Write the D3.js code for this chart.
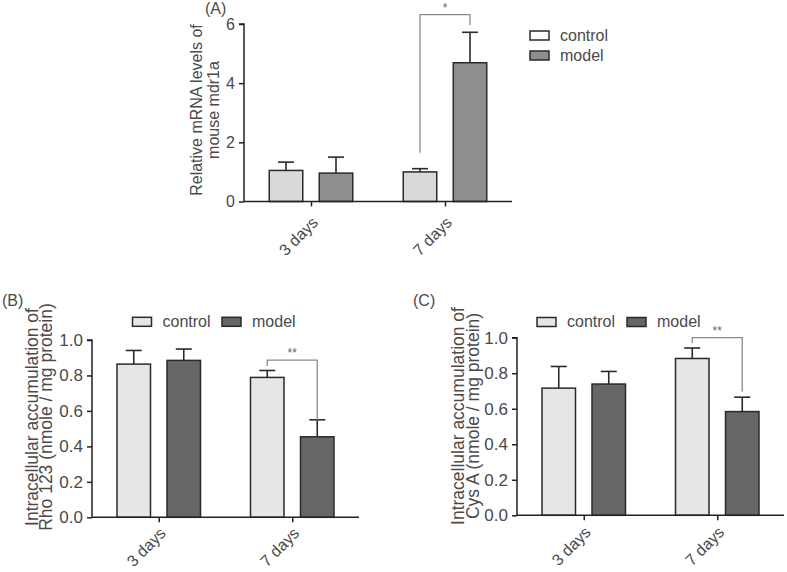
<!DOCTYPE html>
<html>
<head>
<meta charset="utf-8">
<script src="https://d3js.org/d3.v7.min.js"></script>
<style>
  body { margin: 0; background: #fff; }
  svg { display: block; font-family: "Liberation Sans", Arial, Helvetica, sans-serif; }
</style>
</head>
<body>
<svg id="chart" width="787" height="572"></svg>
<script>
// ---------- data ----------
const categories = ["3 days", "7 days"];
const seriesNames = ["control", "model"];

// Panel A: relative mRNA levels of mouse mdr1a
const mrnaControl = [1.05, 1.00];
const mrnaControlErr = [0.28, 0.11];
const mrnaModel = [0.96, 4.69];
const mrnaModelErr = [0.54, 1.03];
const mrnaTicks = [0, 2, 4, 6];
const mrnaSig = { category: "7 days", label: "*", top: 6.32, leftEnd: 1.65, rightEnd: 5.97 };

// Panel B: Rho 123 accumulation
const rhoControl = [0.864, 0.789];
const rhoControlErr = [0.077, 0.039];
const rhoModel = [0.885, 0.454];
const rhoModelErr = [0.064, 0.096];
const rhoSig = { category: "7 days", label: "**", top: 0.887, leftEnd: 0.853, rightEnd: 0.549 };

// Panel C: Cys A accumulation
const cysControl = [0.716, 0.883];
const cysControlErr = [0.122, 0.059];
const cysModel = [0.739, 0.584];
const cysModelErr = [0.071, 0.081];
const cysSig = { category: "7 days", label: "**", top: 1.0, leftEnd: 0.97, rightEnd: 0.697 };

const fracTicks = [0, 0.2, 0.4, 0.6, 0.8, 1.0];

const TEXT = "#4a4a4a";
const AXIS = "#222";
const EDGE = "#2a2a2a";
const BRACKET = "#8a8a8a";

const svg = d3.select("#chart");

function drawPanel(cfg) {
  const g = svg.append("g");
  const x = d3.scalePoint().domain(categories).range(cfg.xRange).padding(0.5);
  const sub = d3.scaleBand().domain(seriesNames).range([-50, 50]).paddingInner(0.33).paddingOuter(0.165);
  const y = d3.scaleLinear().domain(cfg.yDomain).range(cfg.yRange);
  const color = d3.scaleOrdinal().domain(seriesNames).range(cfg.colors);

  const rows = [];
  categories.forEach((c, i) => {
    rows.push({ cat: c, s: "control", v: cfg.control[i], e: cfg.controlErr[i] });
    rows.push({ cat: c, s: "model", v: cfg.model[i], e: cfg.modelErr[i] });
  });

  // error bars
  const capW = 16;
  const eb = g.append("g");
  rows.forEach(d => {
    const cx = x(d.cat) + sub(d.s) + sub.bandwidth() / 2;
    eb.append("line").attr("x1", cx).attr("x2", cx).attr("y1", y(d.v)).attr("y2", y(d.v + d.e))
      .attr("stroke", EDGE).attr("stroke-width", 1.6);
    eb.append("line").attr("x1", cx - capW / 2).attr("x2", cx + capW / 2)
      .attr("y1", y(d.v + d.e)).attr("y2", y(d.v + d.e))
      .attr("stroke", EDGE).attr("stroke-width", 1.6);
  });

  // bars
  g.append("g").selectAll("rect").data(rows).join("rect")
    .attr("x", d => x(d.cat) + sub(d.s))
    .attr("width", sub.bandwidth())
    .attr("y", d => y(d.v))
    .attr("height", d => y(0) - y(d.v))
    .attr("fill", d => color(d.s))
    .attr("stroke", EDGE)
    .attr("stroke-width", 1.5);

  // y axis
  const yAxis = d3.axisLeft(y).tickValues(cfg.yTicks).tickSize(5).tickPadding(4)
    .tickFormat(cfg.yFormat);
  const ya = g.append("g").attr("transform", `translate(${cfg.xRange[0]},0)`).call(yAxis);
  ya.select(".domain").attr("stroke", AXIS).attr("stroke-width", 1.5)
    .attr("d", `M-5,${cfg.yRange[1]}H0V${cfg.yRange[0]}`);
  ya.selectAll(".tick line").attr("stroke", AXIS).attr("stroke-width", 1.5);
  ya.selectAll(".tick text").attr("fill", TEXT).attr("font-size", cfg.tickFont)
    .attr("font-family", "Liberation Sans, Arial, sans-serif");

  // x axis
  const xAxis = d3.axisBottom(x).tickSize(5).tickFormat(() => "");
  const xa = g.append("g").attr("transform", `translate(0,${cfg.yRange[0]})`).call(xAxis);
  xa.select(".domain").attr("stroke", AXIS).attr("stroke-width", 1.5)
    .attr("d", `M${cfg.xRange[0]},0H${cfg.xRange[1]}`);
  xa.selectAll(".tick line").attr("stroke", AXIS).attr("stroke-width", 1.5);
  categories.forEach(c => {
    g.append("text")
      .attr("transform", `translate(${x(c) + 8},${cfg.yRange[0] + cfg.xLabelOffset}) rotate(-45)`)
      .attr("text-anchor", "end")
      .attr("fill", TEXT).attr("font-size", 16)
      .text(c);
  });

  // y label
  const yl = g.append("text")
    .attr("transform", `translate(0,${cfg.ylabelY}) rotate(-90)`)
    .attr("text-anchor", "middle").attr("fill", TEXT).attr("font-size", cfg.labelFont);
  cfg.ylabel.forEach((t, i) => {
    yl.append("tspan").attr("x", 0).attr("y", cfg.ylabelX[i]).text(t);
  });

  // significance bracket
  const s = cfg.sig;
  const lx = x(s.category) + sub("control") + sub.bandwidth() / 2;
  const rx = x(s.category) + sub("model") + sub.bandwidth() / 2;
  g.append("path")
    .attr("d", `M${lx},${y(s.leftEnd)}V${y(s.top)}H${rx}V${y(s.rightEnd)}`)
    .attr("fill", "none").attr("stroke", BRACKET).attr("stroke-width", 1.3);
  g.append("text").attr("x", (lx + rx) / 2).attr("y", y(s.top) - 3)
    .attr("text-anchor", "middle").attr("fill", "#666").attr("font-size", 12)
    .text(s.label);

  // panel label
  g.append("text").attr("x", cfg.panelLabel[1]).attr("y", cfg.panelLabel[2])
    .attr("fill", TEXT).attr("font-size", 16).text(cfg.panelLabel[0]);

  // legend
  const lg = g.append("g");
  seriesNames.forEach((n, i) => {
    const p = cfg.legendPos[i];
    lg.append("rect").attr("x", p[0]).attr("y", p[1]).attr("width", 19).attr("height", 9)
      .attr("fill", cfg.legendColors[i]).attr("stroke", EDGE).attr("stroke-width", 1.5);
    lg.append("text").attr("x", p[0] + 30).attr("y", p[1] + 9.5)
      .attr("fill", TEXT).attr("font-size", 16).text(n);
  });
}

drawPanel({
  xRange: [244, 512], yRange: [201.5, 24], yDomain: [0, 6], yTicks: mrnaTicks,
  yFormat: d3.format("d"), tickFont: 16, labelFont: 16, xLabelOffset: 22,
  control: mrnaControl, controlErr: mrnaControlErr, model: mrnaModel, modelErr: mrnaModelErr,
  colors: ["#d9d9d9", "#8e8e8e"], legendColors: ["#ffffff", "#8e8e8e"],
  ylabel: ["Relative mRNA levels of", "mouse mdr1a"], ylabelX: [202, 219], ylabelY: 110,
  sig: mrnaSig, panelLabel: ["(A)", 205, 14],
  legendPos: [[530, 31], [530, 51]]
});

drawPanel({
  xRange: [92, 359], yRange: [517.3, 340], yDomain: [0, 1], yTicks: fracTicks,
  yFormat: d3.format(".1f"), tickFont: 17, labelFont: 17.5, xLabelOffset: 17,
  control: rhoControl, controlErr: rhoControlErr, model: rhoModel, modelErr: rhoModelErr,
  colors: ["#e6e6e6", "#666666"], legendColors: ["#e6e6e6", "#666666"],
  ylabel: ["Intracellular accumulation of", "Rho 123 (nmole / mg protein)"], ylabelX: [37.5, 52], ylabelY: 417,
  sig: rhoSig, panelLabel: ["(B)", 2, 306],
  legendPos: [[132.5, 317.3], [222, 317.3]]
});

drawPanel({
  xRange: [517, 784], yRange: [515.3, 337.7], yDomain: [0, 1], yTicks: fracTicks,
  yFormat: d3.format(".1f"), tickFont: 17, labelFont: 17.5, xLabelOffset: 18,
  control: cysControl, controlErr: cysControlErr, model: cysModel, modelErr: cysModelErr,
  colors: ["#e6e6e6", "#666666"], legendColors: ["#e6e6e6", "#666666"],
  ylabel: ["Intracellular accumulation of", "Cys A (nmole / mg protein)"], ylabelX: [464, 478.5], ylabelY: 416,
  sig: cysSig, panelLabel: ["(C)", 413, 306],
  legendPos: [[537, 317.5], [627, 317.5]]
});
</script>
</body>
</html>
